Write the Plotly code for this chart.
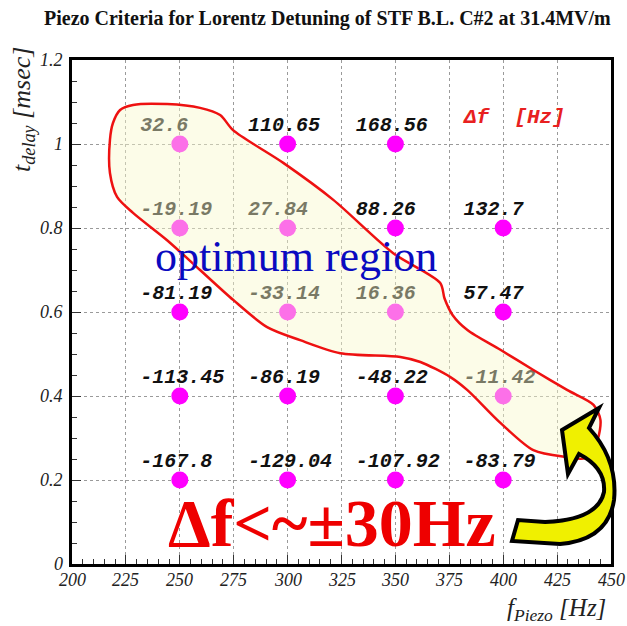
import plotly.graph_objects as go

# ---- data ----
f_piezo_hz = [250, 300, 350,
              250, 300, 350, 400,
              250, 300, 350, 400,
              250, 300, 350, 400,
              250, 300, 350, 400]
t_delay_ms = [1.0, 1.0, 1.0,
              0.8, 0.8, 0.8, 0.8,
              0.6, 0.6, 0.6, 0.6,
              0.4, 0.4, 0.4, 0.4,
              0.2, 0.2, 0.2, 0.2]
delta_f_hz = [32.6, 110.65, 168.56,
              -19.19, 27.84, 88.26, 132.7,
              -81.19, -33.14, 16.36, 57.47,
              -113.45, -86.19, -48.22, -11.42,
              -167.8, -129.04, -107.92, -83.79]

x_tick_vals = [200, 225, 250, 275, 300, 325, 350, 375, 400, 425, 450]
x_tick_text = ["200", "225", "250", "275", "300", "325", "350", "375", "400", "425", "450"]
y_tick_vals = [0, 0.2, 0.4, 0.6, 0.8, 1.0, 1.2]
y_tick_text = ["0", "0.2", "0.4", "0.6", "0.8", "1", "1.2"]

# hand-drawn "optimum region" outline (f [Hz], t [msec])
region_f = [228.3, 244.1, 259.4, 268.7, 274.7, 298.0, 321.2, 349.0, 370.8, 372.8, 376.5,
            383.4, 398.7, 414.0, 429.8, 441.9, 445.1, 443.7, 438.2, 428.9, 414.0, 398.7,
            383.4, 375.5, 361.6, 352.3, 324.4, 305.8, 290.5, 274.7, 259.4, 244.1, 228.3,
            220.9, 217.6, 217.6, 219.0, 222.3, 228.3]
region_t = [1.093, 1.095, 1.086, 1.069, 1.033, 0.955, 0.867, 0.740, 0.669, 0.632, 0.593,
            0.557, 0.510, 0.462, 0.414, 0.379, 0.343, 0.295, 0.252, 0.255, 0.271, 0.336,
            0.414, 0.445, 0.481, 0.493, 0.502, 0.533, 0.564, 0.629, 0.700, 0.771, 0.836,
            0.874, 0.931, 1.010, 1.050, 1.081, 1.093]

x_range = [200, 450]
y_range = [0, 1.2]

W, H = 627, 626
ML, MR, MT, MB = 72, 16, 60, 62
PW, PH = W - ML - MR, H - MT - MB

SERIF = "Liberation Serif"
MONO = "Liberation Mono"


def pp(x, y):
    """pixel -> paper coordinates"""
    return (x - ML) / PW, (H - MB - y) / PH


fig = go.Figure()

# points
fig.add_trace(go.Scatter(
    x=f_piezo_hz, y=t_delay_ms, mode="markers",
    marker=dict(color="#ff00ff", size=17, line=dict(width=0)),
    hoverinfo="skip", showlegend=False, cliponaxis=False))

# value labels
fig.add_trace(go.Scatter(
    x=[f - 18.4 for f in f_piezo_hz], y=[t + 0.043 for t in t_delay_ms],
    mode="text", text=[str(v) for v in delta_f_hz], textposition="middle right",
    textfont=dict(family=MONO, size=20, color="#111111",
                  style="italic", weight="bold"),
    hoverinfo="skip", showlegend=False, cliponaxis=False))

# optimum region (translucent, drawn over points & labels)
fig.add_trace(go.Scatter(
    x=region_f, y=region_t, mode="lines", fill="toself",
    fillcolor="rgba(248,248,204,0.45)",
    line=dict(color="#ee1111", width=2.5, shape="spline", smoothing=0.8),
    hoverinfo="skip", showlegend=False))

axis_common = dict(
    showline=True, linecolor="black", linewidth=2.5, mirror=True,
    ticks="inside", ticklen=9, tickwidth=1.2, tickcolor="#333",
    showgrid=True, gridcolor="#9a9a9a", gridwidth=1, griddash="dot",
    zeroline=False, showticklabels=False,
)

xaxis = dict(range=x_range, tickmode="array", tickvals=x_tick_vals,
             minor=dict(dtick=5, tick0=200, ticks="inside", ticklen=5, tickcolor="#333",
                        showgrid=False),
             **axis_common)
yaxis = dict(range=y_range, tickmode="array", tickvals=y_tick_vals,
             minor=dict(dtick=0.05, tick0=0, ticks="inside", ticklen=5, tickcolor="#333",
                        showgrid=False),
             **axis_common)

tick_font = dict(family=SERIF, size=18, color="#222222", style="italic")

annotations = []
for v, t in zip(x_tick_vals, x_tick_text):
    annotations.append(dict(text=t, xref="x", yref="paper", x=v, y=0, yshift=-16,
                            showarrow=False, xanchor="center", yanchor="middle",
                            font=tick_font))
for v, t in zip(y_tick_vals, y_tick_text):
    annotations.append(dict(text=t, xref="paper", yref="y", x=0, y=v, xshift=-7,
                            showarrow=False, xanchor="right", yanchor="middle",
                            font=tick_font))

# title
annotations.append(dict(
    text="Piezo Criteria for Lorentz Detuning of STF B.L. C#2 at 31.4MV/m",
    xref="paper", yref="paper", x=pp(327, 0)[0], y=pp(0, 18)[1],
    showarrow=False, xanchor="center", yanchor="middle",
    font=dict(family=SERIF, size=20, color="#111", weight="bold")))
# y title
annotations.append(dict(
    text="t<sub>delay</sub> [msec]",
    xref="paper", yref="paper", x=pp(23, 0)[0], y=pp(0, 110)[1],
    textangle=-90, showarrow=False, xanchor="center", yanchor="middle",
    font=dict(family=SERIF, size=26, color="#222", style="italic")))
# x title
annotations.append(dict(
    text="f<sub>Piezo</sub> [Hz]",
    xref="paper", yref="paper", x=pp(608, 0)[0], y=pp(0, 609)[1],
    showarrow=False, xanchor="right", yanchor="middle",
    font=dict(family=SERIF, size=25, color="#222", style="italic")))
# delta f unit
annotations.append(dict(
    text="Δf  [Hz]", xref="x", yref="y", x=380.5, y=1.064,
    showarrow=False, xanchor="left", yanchor="middle",
    font=dict(family=MONO, size=21, color="#e82020",
              style="italic", weight="bold")))
# optimum region label
annotations.append(dict(
    text="optimum region", xref="x", yref="y", x=303.7, y=0.733,
    showarrow=False, xanchor="center", yanchor="middle",
    font=dict(family=SERIF, size=44, color="#0a0ac0")))
# big criterion label
annotations.append(dict(
    text="Δf<~±30Hz", xref="x", yref="y", x=320.8, y=0.098,
    showarrow=False, xanchor="center", yanchor="middle",
    font=dict(family=SERIF, size=68, color="#ee0000", weight="bold")))


# curved yellow arrow (decoration), defined in pixels and converted to paper
def P(x, y):
    a, b = pp(x, y)
    return f"{a:.4f},{b:.4f}"


arrow_path = (
    f"M{P(562,430)} L{P(599,408)} L{P(589,428)} "
    f"Q{P(618,460)} {P(614,500)} Q{P(608,540)} {P(560,544)} "
    f"L{P(512,541)} L{P(518,520)} L{P(545,522)} "
    f"Q{P(598,520)} {P(604,492)} Q{P(606,468)} {P(579,454)} "
    f"L{P(568,474)} Z"
)

fig.update_layout(
    width=W, height=H,
    margin=dict(l=ML, r=MR, t=MT, b=MB),
    paper_bgcolor="white", plot_bgcolor="white",
    xaxis=xaxis, yaxis=yaxis,
    showlegend=False,
    annotations=annotations,
    shapes=[dict(type="path", xref="paper", yref="paper", path=arrow_path,
                 fillcolor="#f0f000", line=dict(color="black", width=4),
                 layer="above")],
)

fig.write_html("out.html")
